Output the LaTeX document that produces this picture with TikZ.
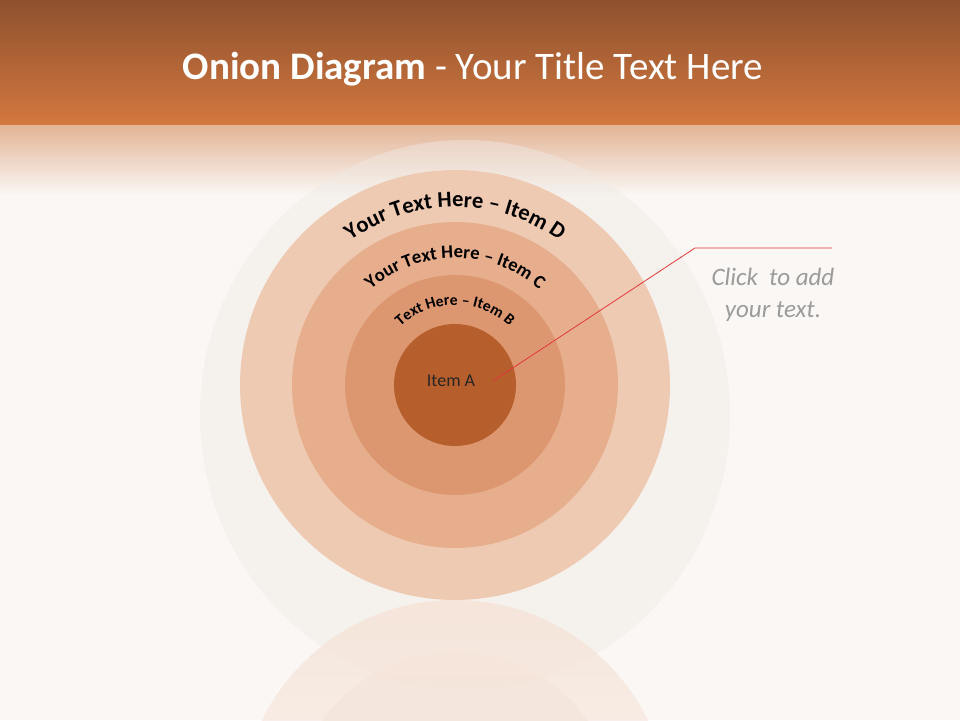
\documentclass[tikz,border=0pt]{standalone}
\usepackage{fontspec}
\setmainfont{Carlito}
\usepackage{xcolor}
\usepackage{tikz}
\usetikzlibrary{decorations.text, positioning}

\definecolor{bandtop}{HTML}{8E512E}
\definecolor{bandbot}{HTML}{D4783F}
\definecolor{fadetop}{HTML}{E3B597}
\definecolor{paper}{HTML}{FAF7F4}
\definecolor{eggfill}{HTML}{EFEAE5}
\definecolor{ringD}{HTML}{EFCAB3}
\definecolor{ringC}{HTML}{E6AE8C}
\definecolor{ringB}{HTML}{DD9770}
\definecolor{ringA}{HTML}{B65E2C}
\definecolor{leader}{HTML}{E0383A}
\definecolor{notegray}{HTML}{9B9B9B}

\begin{document}
\begin{tikzpicture}[x=1pt, y=1pt]
    \tikzset{
        ring/.style={circle, draw=none, inner sep=0pt},
        arctext/.style={decorate, decoration={text along path, text align=center, text={#1}}},
        title/.style={text=white, font=\fontsize{39}{46}\selectfont, anchor=base},
        note/.style={text=notegray, font=\itshape\fontsize{25}{32}\selectfont, align=center},
        line/.style={draw=leader, line width=0.8pt}
    }

    % background and title band
    \fill[paper] (0,0) rectangle (960,720);
    \shade[top color=bandtop, bottom color=bandbot] (0,720) rectangle (960,594);
    \shade[top color=fadetop, bottom color=paper] (0,594) rectangle (960,525);
    \fill[eggfill, opacity=0.45] (465,305) ellipse [x radius=265, y radius=275];
    \begin{scope}
        \clip (0,0) rectangle (960,720);
        \shade[top color=ringD!50!paper, bottom color=paper, opacity=0.7] (455,-95) circle [radius=215];
        \shade[top color=ringD!40!paper, bottom color=ringD!25!gray!20!paper, opacity=0.7] (455,-95) circle [radius=163];
    \end{scope}

    \node[title] (Title) at (473,640) {\textbf{Onion Diagram} - Your Title Text Here};

    % onion rings
    \node[ring, fill=ringD, minimum size=430] (D) at (455,335) {};
    \node[ring, fill=ringC, minimum size=326] (C) at (D.center) {};
    \node[ring, fill=ringB, minimum size=220] (B) at (D.center) {};
    \node[ring, fill=ringA, minimum size=122] (A) at (D.center) {};
    \node[font=\fontsize{18}{21}\selectfont, text=black!85] (LabelA) at ([shift={(-4,4)}]A.center) {Item A};

    \path[arctext={|\bfseries\fontsize{22.5}{26}\selectfont|Your Text Here – Item D}]
        ([shift={(160:178)}]D.center) arc[start angle=160, end angle=20, radius=178];
    \path[arctext={|\bfseries\fontsize{18.7}{22}\selectfont|Your Text Here – Item C}]
        ([shift={(160:127)}]D.center) arc[start angle=160, end angle=20, radius=127];
    \path[arctext={|\bfseries\fontsize{15.6}{18}\selectfont|Text Here – Item B}]
        ([shift={(165:80)}]D.center) arc[start angle=165, end angle=15, radius=80];

    % call-out
    \coordinate (Tip) at (493,339);
    \coordinate (Knee) at (695,472);
    \coordinate (Tail) at (832,472);
    \node[note] (Note) at (773,425) {Click\ \ to add\\your text.};
    \path [line] (Tip) -- (Knee) -- (Tail);
\end{tikzpicture}
\end{document}
